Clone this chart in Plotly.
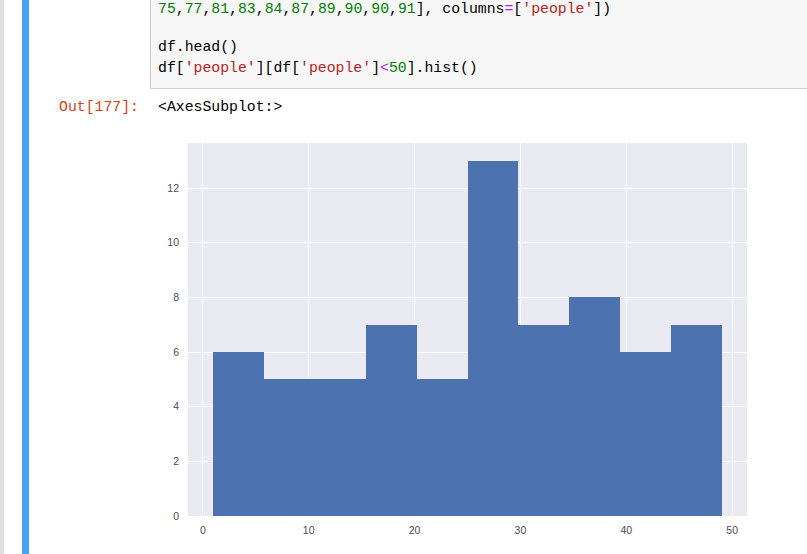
import plotly.graph_objects as go

# ---- data ----
bin_edges = [1.0, 5.8, 10.6, 15.4, 20.2, 25.0, 29.8, 34.6, 39.4, 44.2, 49.0]
counts = [6, 5, 5, 7, 5, 13, 7, 8, 6, 7]
x_ticks = [0, 10, 20, 30, 40, 50]
y_ticks = [0, 2, 4, 6, 8, 10, 12]

centers = [(a + b) / 2 for a, b in zip(bin_edges[:-1], bin_edges[1:])]
widths = [b - a for a, b in zip(bin_edges[:-1], bin_edges[1:])]

W, H = 807, 554
L, R, T, B = 188, 747, 143, 516  # plot-area pixel box


def px(x):
    return (x - L) / (R - L)


def py(y):
    return (B - y) / (B - T)


fig = go.Figure()
fig.add_trace(go.Bar(
    x=centers, y=counts, width=widths,
    marker=dict(color="#4c72b0", line=dict(width=0)),
    hoverinfo="skip",
))

span = bin_edges[-1] - bin_edges[0]
xr = [bin_edges[0] - 0.05 * span, bin_edges[-1] + 0.05 * span]
yr = [0, max(counts) * 1.05]

tickfont = dict(family="Liberation Sans, Arial, sans-serif", size=10.5, color="#4d4d4d")

fig.update_layout(
    width=W, height=H,
    margin=dict(l=L, r=W - R, t=T, b=H - B),
    paper_bgcolor="white",
    plot_bgcolor="#eaeaf2",
    showlegend=False,
    bargap=0,
    xaxis=dict(range=xr, tickvals=x_ticks, showgrid=True, gridcolor="white", gridwidth=1.3,
               zeroline=False, showline=False, ticks="", tickfont=tickfont,
               ticklabelstandoff=6, fixedrange=True),
    yaxis=dict(range=yr, tickvals=y_ticks, showgrid=True, gridcolor="white", gridwidth=1.3,
               zeroline=False, showline=False, ticks="", tickfont=tickfont,
               ticklabelstandoff=8, fixedrange=True),
)

shapes = []
# left grey strip
shapes.append(dict(type="rect", xref="paper", yref="paper",
                   x0=px(0), x1=px(4), y0=py(H), y1=py(0),
                   fillcolor="#e0e0e0", line=dict(width=0)))
# blue selection bar
shapes.append(dict(type="rect", xref="paper", yref="paper",
                   x0=px(22), x1=px(29), y0=py(H), y1=py(0),
                   fillcolor="#42a5f5", line=dict(width=0)))
# code cell box
shapes.append(dict(type="rect", xref="paper", yref="paper",
                   x0=px(150.5), x1=px(830), y0=py(88.5), y1=py(-20),
                   fillcolor="#f7f7f7", line=dict(color="#cfcfcf", width=1)))
fig.update_layout(shapes=shapes)

mono = "Liberation Mono, DejaVu Sans Mono, monospace"
G = "#008000"
K = "#000000"
S = "#ba2121"
P = "#aa22ff"


def sp(t, c):
    return f"<span style='color:{c}'>{t}</span>"


nums = ["75", "77", "81", "83", "84", "87", "89", "90", "90", "91"]
line1 = sp(",", K).join(sp(n, G) for n in nums) + sp("], columns", K) + sp("=", P) + \
    sp("[", K) + sp("'people'", S) + sp("])", K)
line2 = sp("df.head()", K)
line3 = sp("df[", K) + sp("'people'", S) + sp("][df[", K) + sp("'people'", S) + sp("]", K) + \
    sp("&lt;", P) + sp("50", G) + sp("].hist()", K)

ann = []
for text, y in [(line1, 9), (line2, 47), (line3, 68)]:
    ann.append(dict(text=text, xref="paper", yref="paper", x=px(156), y=py(y),
                    xanchor="left", yanchor="middle", showarrow=False,
                    font=dict(family=mono, size=14.8, color=K)))
ann.append(dict(text="Out[177]:", xref="paper", yref="paper", x=px(141), y=py(107),
                xanchor="right", yanchor="middle", showarrow=False,
                font=dict(family=mono, size=14.8, color="#d84315")))
ann.append(dict(text="&lt;AxesSubplot:&gt;", xref="paper", yref="paper", x=px(156), y=py(107),
                xanchor="left", yanchor="middle", showarrow=False,
                font=dict(family=mono, size=14.8, color=K)))
fig.update_layout(annotations=ann)

fig.write_html("out.html", config={"displayModeBar": False},
               post_script="document.body.style.margin='0';document.body.style.padding='0';")
